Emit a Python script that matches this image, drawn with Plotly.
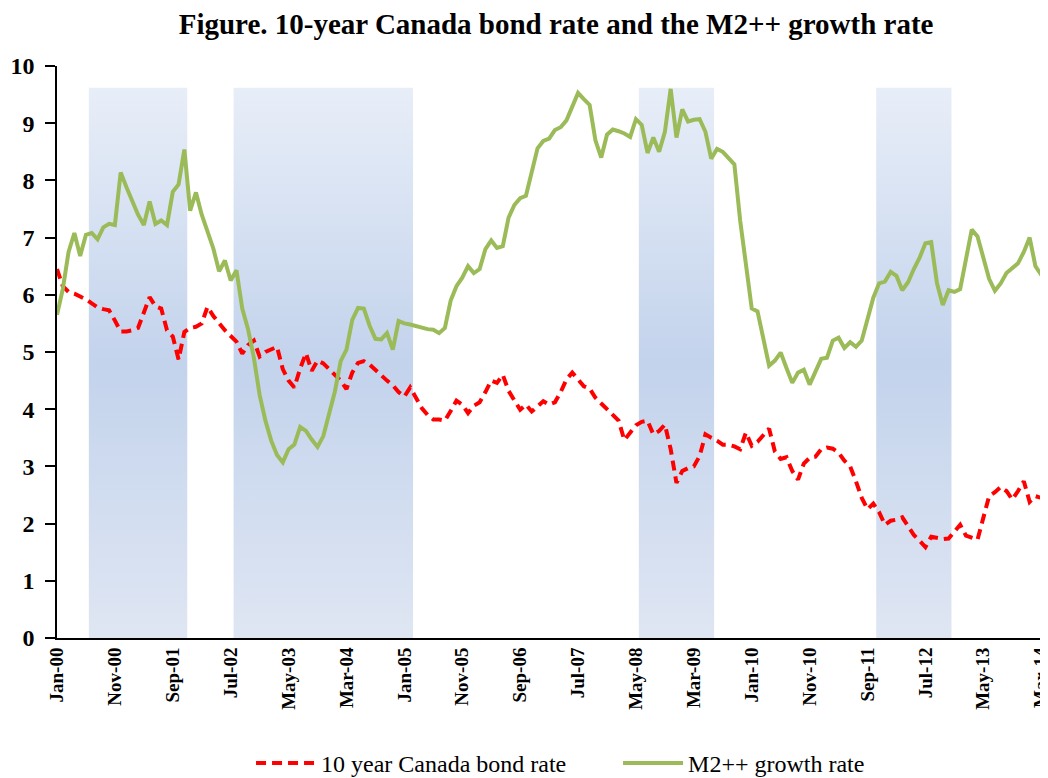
import plotly.graph_objects as go

# Monthly observations, Jan-2000 .. Apr-2014
months = ["Jan", "Feb", "Mar", "Apr", "May", "Jun", "Jul", "Aug", "Sep", "Oct", "Nov", "Dec"]
dates = [f"{months[i % 12]}-{(i // 12):02d}" for i in range(172)]

bond_rate = [
    6.45, 6.15, 6.05, 6.02, 5.97, 5.92, 5.85, 5.78, 5.75, 5.73, 5.55, 5.36,
    5.36, 5.38, 5.42, 5.70, 5.96, 5.80, 5.76, 5.38, 5.27, 4.87, 5.35, 5.42,
    5.44, 5.50, 5.79, 5.63, 5.50, 5.38, 5.28, 5.18, 4.97, 5.12, 5.20, 4.92,
    5.00, 5.05, 5.09, 4.70, 4.50, 4.38, 4.71, 4.98, 4.67, 4.85, 4.80, 4.70,
    4.60, 4.50, 4.35, 4.64, 4.81, 4.84, 4.78, 4.68, 4.58, 4.50, 4.42, 4.30,
    4.22, 4.38, 4.20, 4.02, 3.90, 3.82, 3.82, 3.80, 3.97, 4.15, 4.08, 3.93,
    4.06, 4.12, 4.30, 4.50, 4.46, 4.60, 4.32, 4.15, 3.99, 4.08, 3.96, 4.05,
    4.14, 4.08, 4.12, 4.30, 4.52, 4.64, 4.52, 4.40, 4.36, 4.20, 4.10, 4.00,
    3.90, 3.80, 3.46, 3.60, 3.72, 3.78, 3.80, 3.56, 3.62, 3.73, 3.30, 2.71,
    2.92, 2.97, 3.00, 3.18, 3.56, 3.50, 3.45, 3.38, 3.38, 3.35, 3.30, 3.59,
    3.36, 3.43, 3.55, 3.66, 3.26, 3.13, 3.16, 2.92, 2.77, 3.05, 3.15, 3.17,
    3.30, 3.33, 3.31, 3.24, 3.10, 3.00, 2.74, 2.45, 2.25, 2.35, 2.20, 1.98,
    2.05, 2.07, 2.11, 1.95, 1.80, 1.70, 1.59, 1.77, 1.75, 1.73, 1.74, 1.85,
    1.98, 1.79, 1.76, 1.72, 2.10, 2.48, 2.55, 2.64, 2.57, 2.42, 2.57, 2.74,
    2.38, 2.48, 2.45, 2.41,
]

m2_growth = [
    5.65, 6.10, 6.75, 7.08, 6.68, 7.05, 7.08, 6.97, 7.18, 7.24, 7.22, 8.14,
    7.88, 7.65, 7.40, 7.22, 7.63, 7.24, 7.30, 7.22, 7.80, 7.93, 8.54, 7.47,
    7.79, 7.40, 7.10, 6.81, 6.41, 6.60, 6.25, 6.43, 5.76, 5.40, 4.90, 4.25,
    3.80, 3.45, 3.20, 3.07, 3.30, 3.38, 3.69, 3.62, 3.47, 3.34, 3.53, 3.95,
    4.31, 4.84, 5.04, 5.56, 5.77, 5.76, 5.46, 5.23, 5.22, 5.33, 5.04, 5.54,
    5.50, 5.48, 5.45, 5.42, 5.40, 5.39, 5.33, 5.42, 5.90, 6.15, 6.30, 6.50,
    6.38, 6.45, 6.80, 6.95, 6.82, 6.85, 7.35, 7.57, 7.69, 7.73, 8.12, 8.56,
    8.69, 8.73, 8.88, 8.93, 9.05, 9.30, 9.53, 9.42, 9.32, 8.70, 8.40, 8.80,
    8.89, 8.86, 8.82, 8.76, 9.07, 8.97, 8.48, 8.75, 8.50, 8.85, 9.60, 8.75,
    9.24, 9.03, 9.06, 9.07, 8.85, 8.38, 8.55, 8.50, 8.40, 8.28, 7.30, 6.50,
    5.76, 5.71, 5.20, 4.76, 4.85, 4.99, 4.72, 4.46, 4.64, 4.69, 4.43, 4.64,
    4.88, 4.90, 5.20, 5.25, 5.07, 5.17, 5.09, 5.20, 5.60, 5.95, 6.20, 6.23,
    6.40, 6.33, 6.08, 6.22, 6.45, 6.65, 6.90, 6.92, 6.20, 5.82, 6.08, 6.05,
    6.10, 6.60, 7.14, 7.02, 6.65, 6.28, 6.07, 6.20, 6.38, 6.47, 6.55, 6.75,
    7.00, 6.50, 6.35, 6.25,
]

# Shaded periods (first and last shaded month)
shade_start = ["Jul-00", "Aug-02", "Jun-08", "Nov-11"]
shade_end = ["Nov-01", "Feb-05", "Jun-09", "Nov-12"]
shade_top = 9.62

tick_labels = dates[::10]

x = list(range(len(dates)))
fig = go.Figure()

for s, e in zip(shade_start, shade_end):
    i0 = dates.index(s) - 0.5
    i1 = dates.index(e) + 0.5
    fig.add_trace(go.Scatter(
        x=[i0, i1, i1, i0, i0], y=[0, 0, shade_top, shade_top, 0],
        mode="lines", line=dict(width=0), fill="toself",
        fillgradient=dict(type="vertical",
                          colorscale=[[0, "#dfe6f3"], [0.5, "#c3d3ec"], [1, "#e8eef8"]]),
        showlegend=False, hoverinfo="skip",
    ))

fig.add_trace(go.Scatter(
    x=x, y=bond_rate, mode="lines", name="10 year Canada bond rate",
    line=dict(color="#ff0000", width=4, dash="10px,6px"),
))
fig.add_trace(go.Scatter(
    x=x, y=m2_growth, mode="lines", name="M2++ growth rate",
    line=dict(color="#9bbb59", width=4),
))

serif = "Liberation Serif, Times New Roman, serif"
# page body has an 8px margin, so the figure is sized 8px smaller each way
fig.update_layout(
    width=1040, height=770,
    margin=dict(l=49, r=1, t=58, b=140),
    paper_bgcolor="white", plot_bgcolor="white",
    title=dict(text="<b>Figure. 10-year Canada bond rate and the M2++ growth rate</b>",
               x=0.527, xanchor="center", yref="container", y=0.979, yanchor="middle",
               font=dict(family=serif, size=29, color="black")),
    legend=dict(orientation="h", x=0.196, xanchor="left",
                yref="container", y=0.019, yanchor="middle",
                font=dict(family=serif, size=24, color="black"),
                itemwidth=60, entrywidth=292, bgcolor="rgba(0,0,0,0)"),
    xaxis=dict(range=[0, len(dates) - 1], tickmode="array",
               tickvals=list(range(0, len(dates), 10)), ticktext=tick_labels,
               tickangle=-90, showgrid=False, zeroline=False, automargin=False,
               ticklabeloverflow="allow",
               showline=True, linecolor="black", linewidth=2, ticks="",
               tickfont=dict(family=serif, size=19, color="black", weight="bold")),
    yaxis=dict(range=[0, 10], tickmode="linear", tick0=0, dtick=1,
               showgrid=False, zeroline=False, showline=True, automargin=False,
               linecolor="black", linewidth=1.5, ticks="outside", ticklen=10,
               tickwidth=1.5, tickcolor="black", ticklabelstandoff=6,
               tickfont=dict(family=serif, size=24, color="black", weight="bold")),
)

fig.write_html("out.html")
